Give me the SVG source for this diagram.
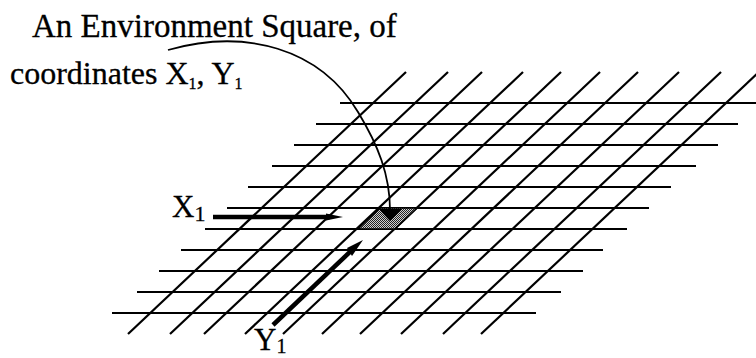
<svg xmlns="http://www.w3.org/2000/svg" width="756" height="358" viewBox="0 0 756 358">
<style>
.t{font-family:"Liberation Serif","Times New Roman",serif;fill:#000;stroke:#000;stroke-width:0.3}
.g{stroke:#000;stroke-width:2.2;fill:none}
.thick{stroke:#000;stroke-width:4.5;fill:none}
</style>
<defs>
<pattern id="dots" width="2" height="2" patternUnits="userSpaceOnUse">
<rect width="2" height="2" fill="#cfcfcf"/>
<rect width="1" height="1" fill="#222"/>
<rect x="1" y="1" width="1" height="1" fill="#222"/>
</pattern>
</defs>
<rect width="756" height="358" fill="#fff"/>
<g id="label-top">
<text class="t" x="32" y="37" font-size="33">An Environment Square, of</text>
<text class="t" x="10" y="84" font-size="32">coordinates X<tspan font-size="16" dy="5">1</tspan><tspan dy="-5">, Y</tspan><tspan font-size="16" dy="5">1</tspan></text>
</g>
<g id="grid">
<line class="g" x1="340" y1="103" x2="760" y2="103"/>
<line class="g" x1="316" y1="124" x2="738" y2="124"/>
<line class="g" x1="294" y1="145" x2="718" y2="145"/>
<line class="g" x1="272" y1="166" x2="696" y2="166"/>
<line class="g" x1="248" y1="187" x2="671" y2="187"/>
<line class="g" x1="227" y1="208" x2="649" y2="208"/>
<line class="g" x1="205" y1="229" x2="627" y2="229"/>
<line class="g" x1="181" y1="250" x2="603" y2="250"/>
<line class="g" x1="159" y1="271" x2="583" y2="271"/>
<line class="g" x1="137" y1="292" x2="561" y2="292"/>
<line class="g" x1="112" y1="313" x2="536" y2="313"/>
<line class="g" x1="128" y1="334" x2="406" y2="72"/>
<line class="g" x1="170" y1="334" x2="448" y2="72"/>
<line class="g" x1="204" y1="334" x2="482" y2="72"/>
<line class="g" x1="245" y1="334" x2="523" y2="72"/>
<line class="g" x1="283" y1="334" x2="561" y2="72"/>
<line class="g" x1="322" y1="334" x2="600" y2="72"/>
<line class="g" x1="360" y1="334" x2="638" y2="72"/>
<line class="g" x1="401" y1="334" x2="679" y2="72"/>
<line class="g" x1="443" y1="334" x2="721" y2="72"/>
<line class="g" x1="481" y1="334" x2="759" y2="72"/>
</g>
<g id="square">
<polygon points="380,208 417,208 395,229 358,229" fill="url(#dots)" stroke="#000" stroke-width="1.5"/>
</g>
<g id="label-x1">
<text class="t" x="172" y="217" font-size="31">X<tspan font-size="22" dy="4">1</tspan></text>
</g>
<g id="label-y1">
<text class="t" x="254" y="350" font-size="31">Y<tspan font-size="20" dy="3">1</tspan></text>
</g>
<g id="connectors">
<line class="thick" x1="213" y1="217" x2="330" y2="217"/>
<polygon points="326,213.5 343,217 326,220.5" fill="#000"/>
<line class="thick" x1="273" y1="325" x2="352" y2="250"/>
<polygon points="347,248 363,240 352,256" fill="#000"/>
<path d="M168,50 C245,28 320,48 358,112 C378,145 390,175 390,210" fill="none" stroke="#000" stroke-width="1.8"/>
<polygon points="379,209 402,209 390,221" fill="#000"/>
</g>
</svg>
